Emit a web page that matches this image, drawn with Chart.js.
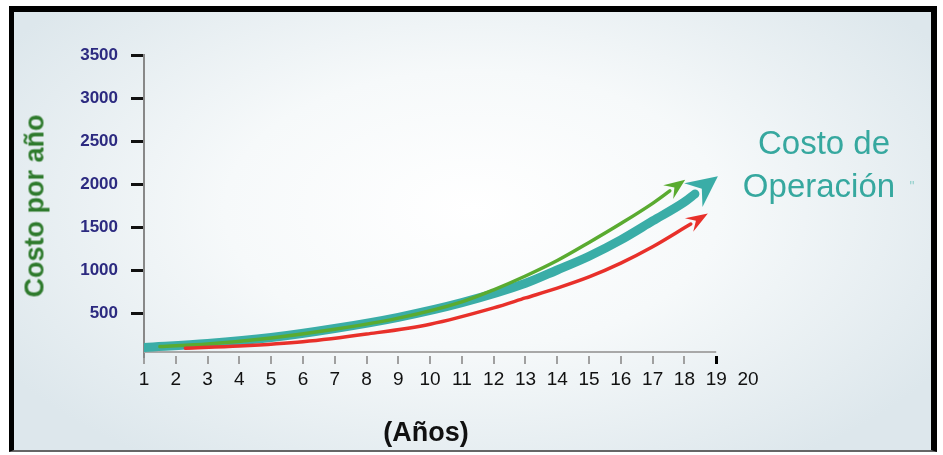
<!DOCTYPE html>
<html>
<head>
<meta charset="utf-8">
<script src="https://cdn.jsdelivr.net/npm/chart.js@4"></script>
<style>
  html,body{margin:0;padding:0;background:#fff;width:943px;height:455px;overflow:hidden;font-family:"Liberation Sans",Arial,sans-serif;}
  .frame{position:absolute;left:9px;top:6px;width:917px;height:438px;
    border-left:5px solid #000;border-top:6px solid #000;border-right:6px solid #000;border-bottom:2px solid #666;
    background:radial-gradient(ellipse 60% 70% at 50% 45%, #ffffff 0%, #f6f9fa 45%, #dde7ec 100%);}
  canvas{position:absolute;left:0;top:0;}
  .t{position:absolute;white-space:nowrap;}
  #ytitle{left:35px;top:206px;transform:translate(-50%,-50%) rotate(-90deg);color:#2e7a2c;font-weight:bold;font-size:27px;}
  #xtitle{left:426px;top:432px;transform:translate(-50%,-50%);color:#111;font-weight:bold;font-size:27px;}
  .lab{color:#36a89f;font-size:33px;transform:translate(-50%,-50%);}
  #dots{left:912px;top:186px;color:#8fcfca;font-size:14px;transform:translate(-50%,-50%);}
</style>
</head>
<body>
<div class="frame"></div>
<canvas id="c" width="943" height="455"></canvas>
<div class="t" id="ytitle">Costo por año</div>
<div class="t" id="xtitle">(Años)</div>
<div class="t lab" style="left:824px;top:143px;">Costo de</div>
<div class="t lab" style="left:819px;top:186px;">Operación</div>
<div class="t" id="dots">"</div>
<script>
// años / costo por serie
const tealYears = [1, 3, 5, 7, 9, 11, 13, 14, 15, 16, 17, 18, 18.33];
const tealCost  = [100, 145, 215, 320, 450, 620, 845, 1000, 1160, 1350, 1570, 1790, 1884];
const greenYears = [1.5, 3, 5, 7, 9, 11, 12, 13, 14, 15, 16, 17, 17.54];
const greenCost  = [110, 140, 210, 310, 440, 630, 770, 930, 1110, 1320, 1540, 1775, 1920];
const redYears = [2.3, 4, 6, 8, 10, 12, 13, 14, 15, 16, 17, 18, 18.2];
const redCost  = [90, 115, 165, 255, 370, 560, 675, 790, 920, 1080, 1270, 1490, 1535];
const yearTicks = [1,2,3,4,5,6,7,8,9,10,11,12,13,14,15,16,17,18,19,20];
const costTicks = [500,1000,1500,2000,2500,3000,3500];

const pts = (xs, ys) => xs.map((x,i)=>({x, y: ys[i]}));

// punta de flecha al final de cada serie
const arrowHeads = {
  id:'arrowHeads',
  afterDatasetsDraw(chart){
    const ctx = chart.ctx;
    chart.data.datasets.forEach((ds, i)=>{
      const meta = chart.getDatasetMeta(i);
      const n = meta.data.length;
      const p = meta.data[n-1], q = meta.data[n-2];
      let dx = p.x - (p.cp1x ?? q.x), dy = p.y - (p.cp1y ?? q.y);
      if (Math.hypot(dx,dy) < 1){ dx = p.x - q.x; dy = p.y - q.y; }
      const len = Math.hypot(dx,dy); dx/=len; dy/=len;
      const nx = -dy, ny = dx;
      const L = ds.headLen, W = ds.headWid/2;
      ctx.save();
      ctx.fillStyle = ds.borderColor;
      ctx.beginPath();
      ctx.moveTo(p.x + dx*L, p.y + dy*L);
      ctx.lineTo(p.x + nx*W - dx*2, p.y + ny*W - dy*2);
      ctx.lineTo(p.x + dx*L*0.3, p.y + dy*L*0.3);
      ctx.lineTo(p.x - nx*W - dx*2, p.y - ny*W - dy*2);
      ctx.closePath();
      ctx.fill();
      ctx.restore();
    });
  }
};

// línea del eje x (termina en 19, separada de las marcas)
const xAxisLine = {
  id:'xAxisLine',
  beforeDatasetsDraw(chart){
    const x = chart.scales.x, y = chart.scales.y;
    const ctx = chart.ctx;
    ctx.save();
    ctx.strokeStyle = '#a8a8a8';
    ctx.lineWidth = 2;
    ctx.beginPath();
    ctx.moveTo(x.getPixelForValue(1), y.bottom - 4);
    ctx.lineTo(x.getPixelForValue(19), y.bottom - 4);
    ctx.stroke();
    ctx.restore();
  }
};

new Chart(document.getElementById('c'), {
  type:'line',
  data:{
    datasets:[
      { label:'rojo', data:pts(redYears, redCost), borderColor:'#e8302a', borderWidth:3.5, headLen:20, headWid:16 },
      { label:'verde', data:pts(greenYears, greenCost), borderColor:'#5aab30', borderWidth:3.5, headLen:19, headWid:17 },
      { label:'Costo de Operación', data:pts(tealYears, tealCost), borderColor:'#3aada7', borderWidth:9, headLen:29, headWid:30 }
    ]
  },
  options:{
    responsive:false,
    animation:false,
    layout:{ padding:{ left:0, top:55, right:195, bottom:0 } },
    elements:{ point:{ radius:0 }, line:{ cubicInterpolationMode:'monotone', borderCapStyle:'round' } },
    plugins:{ legend:{ display:false }, tooltip:{ enabled:false } },
    scales:{
      x:{
        type:'linear', min:1, max:20,
        afterFit(s){ s.height = 99; },
        afterBuildTicks(s){ s.ticks = yearTicks.map(v=>({value:v})); },
        border:{ display:false },
        grid:{ drawOnChartArea:false, tickLength:8,
          color:c=> c.tick && c.tick.value===19 ? '#000' : (c.tick && c.tick.value===20 ? 'rgba(0,0,0,0)' : '#a0a0a0'),
          lineWidth:c=> c.tick && c.tick.value===19 ? 3 : 2 },
        ticks:{ color:'#111', padding:4, font:{ family:'"Liberation Sans", Arial', size:19 }, maxRotation:0, autoSkip:false }
      },
      y:{
        min:0, max:3500,
        afterFit(s){ s.width = 144; },
        afterBuildTicks(s){ s.ticks = [0].concat(costTicks).map(v=>({value:v})); },
        border:{ color:'#888', width:2 },
        grid:{ drawOnChartArea:false, tickLength:13, lineWidth:3,
          color:c=> c.tick && c.tick.value===0 ? 'rgba(0,0,0,0)' : '#111' },
        ticks:{ color:'#2c2a80', padding:13, font:{ family:'"Liberation Sans", Arial', size:17, weight:'bold' },
          callback:v=> v===0 ? '' : String(v) }
      }
    }
  },
  plugins:[arrowHeads, xAxisLine]
});
</script>
</body>
</html>
